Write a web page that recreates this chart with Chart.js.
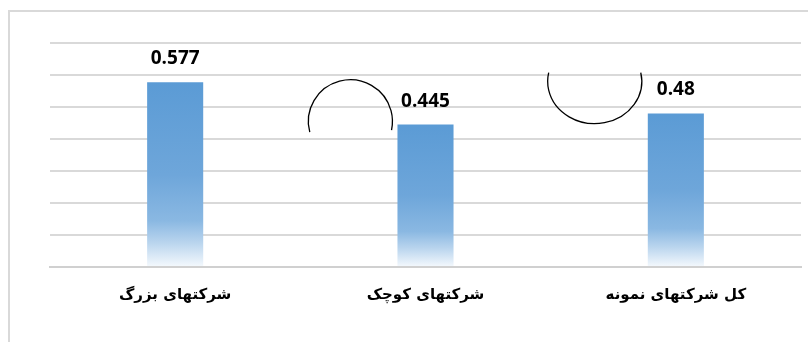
<!DOCTYPE html>
<html>
<head>
<meta charset="utf-8">
<script src="https://cdn.jsdelivr.net/npm/chart.js@4/dist/chart.umd.min.js"></script>
<style>
    html, body { margin: 0; padding: 0; background: #fff; overflow: hidden; }
    #wrap { position: relative; width: 808px; height: 342px; }
    #frame {
        position: absolute; left: 8px; top: 10px; right: -4px; bottom: -4px;
        border: 2px solid #d9d9d9;
    }
    canvas { position: absolute; left: 0; top: 0; }
</style>
</head>
<body>
<div id="wrap">
    <div id="frame"></div>
    <canvas id="chart" width="808" height="342"></canvas>
</div>
<script>
// Données du graphique
const categories = ['شرکتهای بزرگ', 'شرکتهای کوچک', 'کل شرکتهای نمونه'];
const values = [0.577, 0.445, 0.48];
const valueLabels = ['0.577', '0.445', '0.48'];
const yTicks = [0, 0.1, 0.2, 0.3, 0.4, 0.5, 0.6, 0.7];

// Arcs décoratifs (en unités des échelles : index de catégorie / valeur)
const arcs = [
    { x: 0.7, y: 0.455, rx: 0.168, ry: 0.13, start: 165, end: 12 },
    { x: 1.676, y: 0.58, rx: 0.188, ry: 0.132, start: -12, end: 192 }
];

const gridColor = '#d9d9d9';

function barGradient(ctx) {
    const chart = ctx.chart;
    if (!chart.chartArea || ctx.raw === undefined) {
        return '#5b9bd5';
    }
    const y = chart.scales.y;
    const top = y.getPixelForValue(ctx.raw);
    const bottom = y.getPixelForValue(0);
    const g = chart.ctx.createLinearGradient(0, top, 0, bottom);
    g.addColorStop(0, '#5b9bd5');
    g.addColorStop(0.5, '#6ea6da');
    g.addColorStop(0.75, '#8ab8e2');
    g.addColorStop(0.87, '#bad5ee');
    g.addColorStop(1, '#f5f9fd');
    return g;
}

const valueLabelPlugin = {
    id: 'valueLabels',
    afterDatasetsDraw(chart) {
        const ctx = chart.ctx;
        const meta = chart.getDatasetMeta(0);
        ctx.save();
        ctx.font = 'bold 19px "Open Sans", sans-serif';
        ctx.fillStyle = '#000';
        ctx.textAlign = 'center';
        ctx.textBaseline = 'alphabetic';
        meta.data.forEach(function (bar, i) {
            ctx.fillText(valueLabels[i], bar.x, bar.y - 18);
        });
        ctx.restore();
    }
};

const arcPlugin = {
    id: 'arcs',
    afterDraw(chart) {
        const ctx = chart.ctx;
        const sx = chart.scales.x;
        const sy = chart.scales.y;
        const unitX = sx.getPixelForValue(1) - sx.getPixelForValue(0);
        const unitY = sy.getPixelForValue(0) - sy.getPixelForValue(1);
        ctx.save();
        ctx.strokeStyle = '#000';
        ctx.lineWidth = 1.3;
        arcs.forEach(function (a) {
            const cx = sx.getPixelForValue(0) + a.x * unitX;
            const cy = sy.getPixelForValue(a.y);
            ctx.beginPath();
            ctx.ellipse(cx, cy, a.rx * unitX, a.ry * unitY, 0,
                a.start * Math.PI / 180, a.end * Math.PI / 180, false);
            ctx.stroke();
        });
        ctx.restore();
    }
};

new Chart(document.getElementById('chart'), {
    type: 'bar',
    data: {
        labels: categories,
        datasets: [{
            data: values,
            backgroundColor: barGradient,
            borderWidth: 0,
            barPercentage: 0.448,
            categoryPercentage: 0.5
        }]
    },
    options: {
        responsive: false,
        animation: false,
        events: [],
        layout: { padding: { left: 50, right: 7, top: 43, bottom: 0 } },
        plugins: {
            legend: { display: false },
            tooltip: { enabled: false }
        },
        scales: {
            x: {
                grid: { display: false },
                border: { color: '#d0d0d0', width: 2 },
                ticks: {
                    color: '#000',
                    font: { family: '"DejaVu Sans", sans-serif', size: 15, weight: 'bold' },
                    padding: 11,
                    maxRotation: 0
                },
                afterFit(scale) { scale.height = 75; }
            },
            y: {
                min: 0,
                max: 0.7,
                afterBuildTicks(scale) {
                    scale.ticks = yTicks.map(function (v) { return { value: v }; });
                },
                grid: { color: gridColor, lineWidth: 2, drawTicks: false },
                border: { display: false },
                ticks: { display: false },
                afterFit(scale) { scale.width = 0; }
            }
        }
    },
    plugins: [valueLabelPlugin, arcPlugin]
});
</script>
</body>
</html>
